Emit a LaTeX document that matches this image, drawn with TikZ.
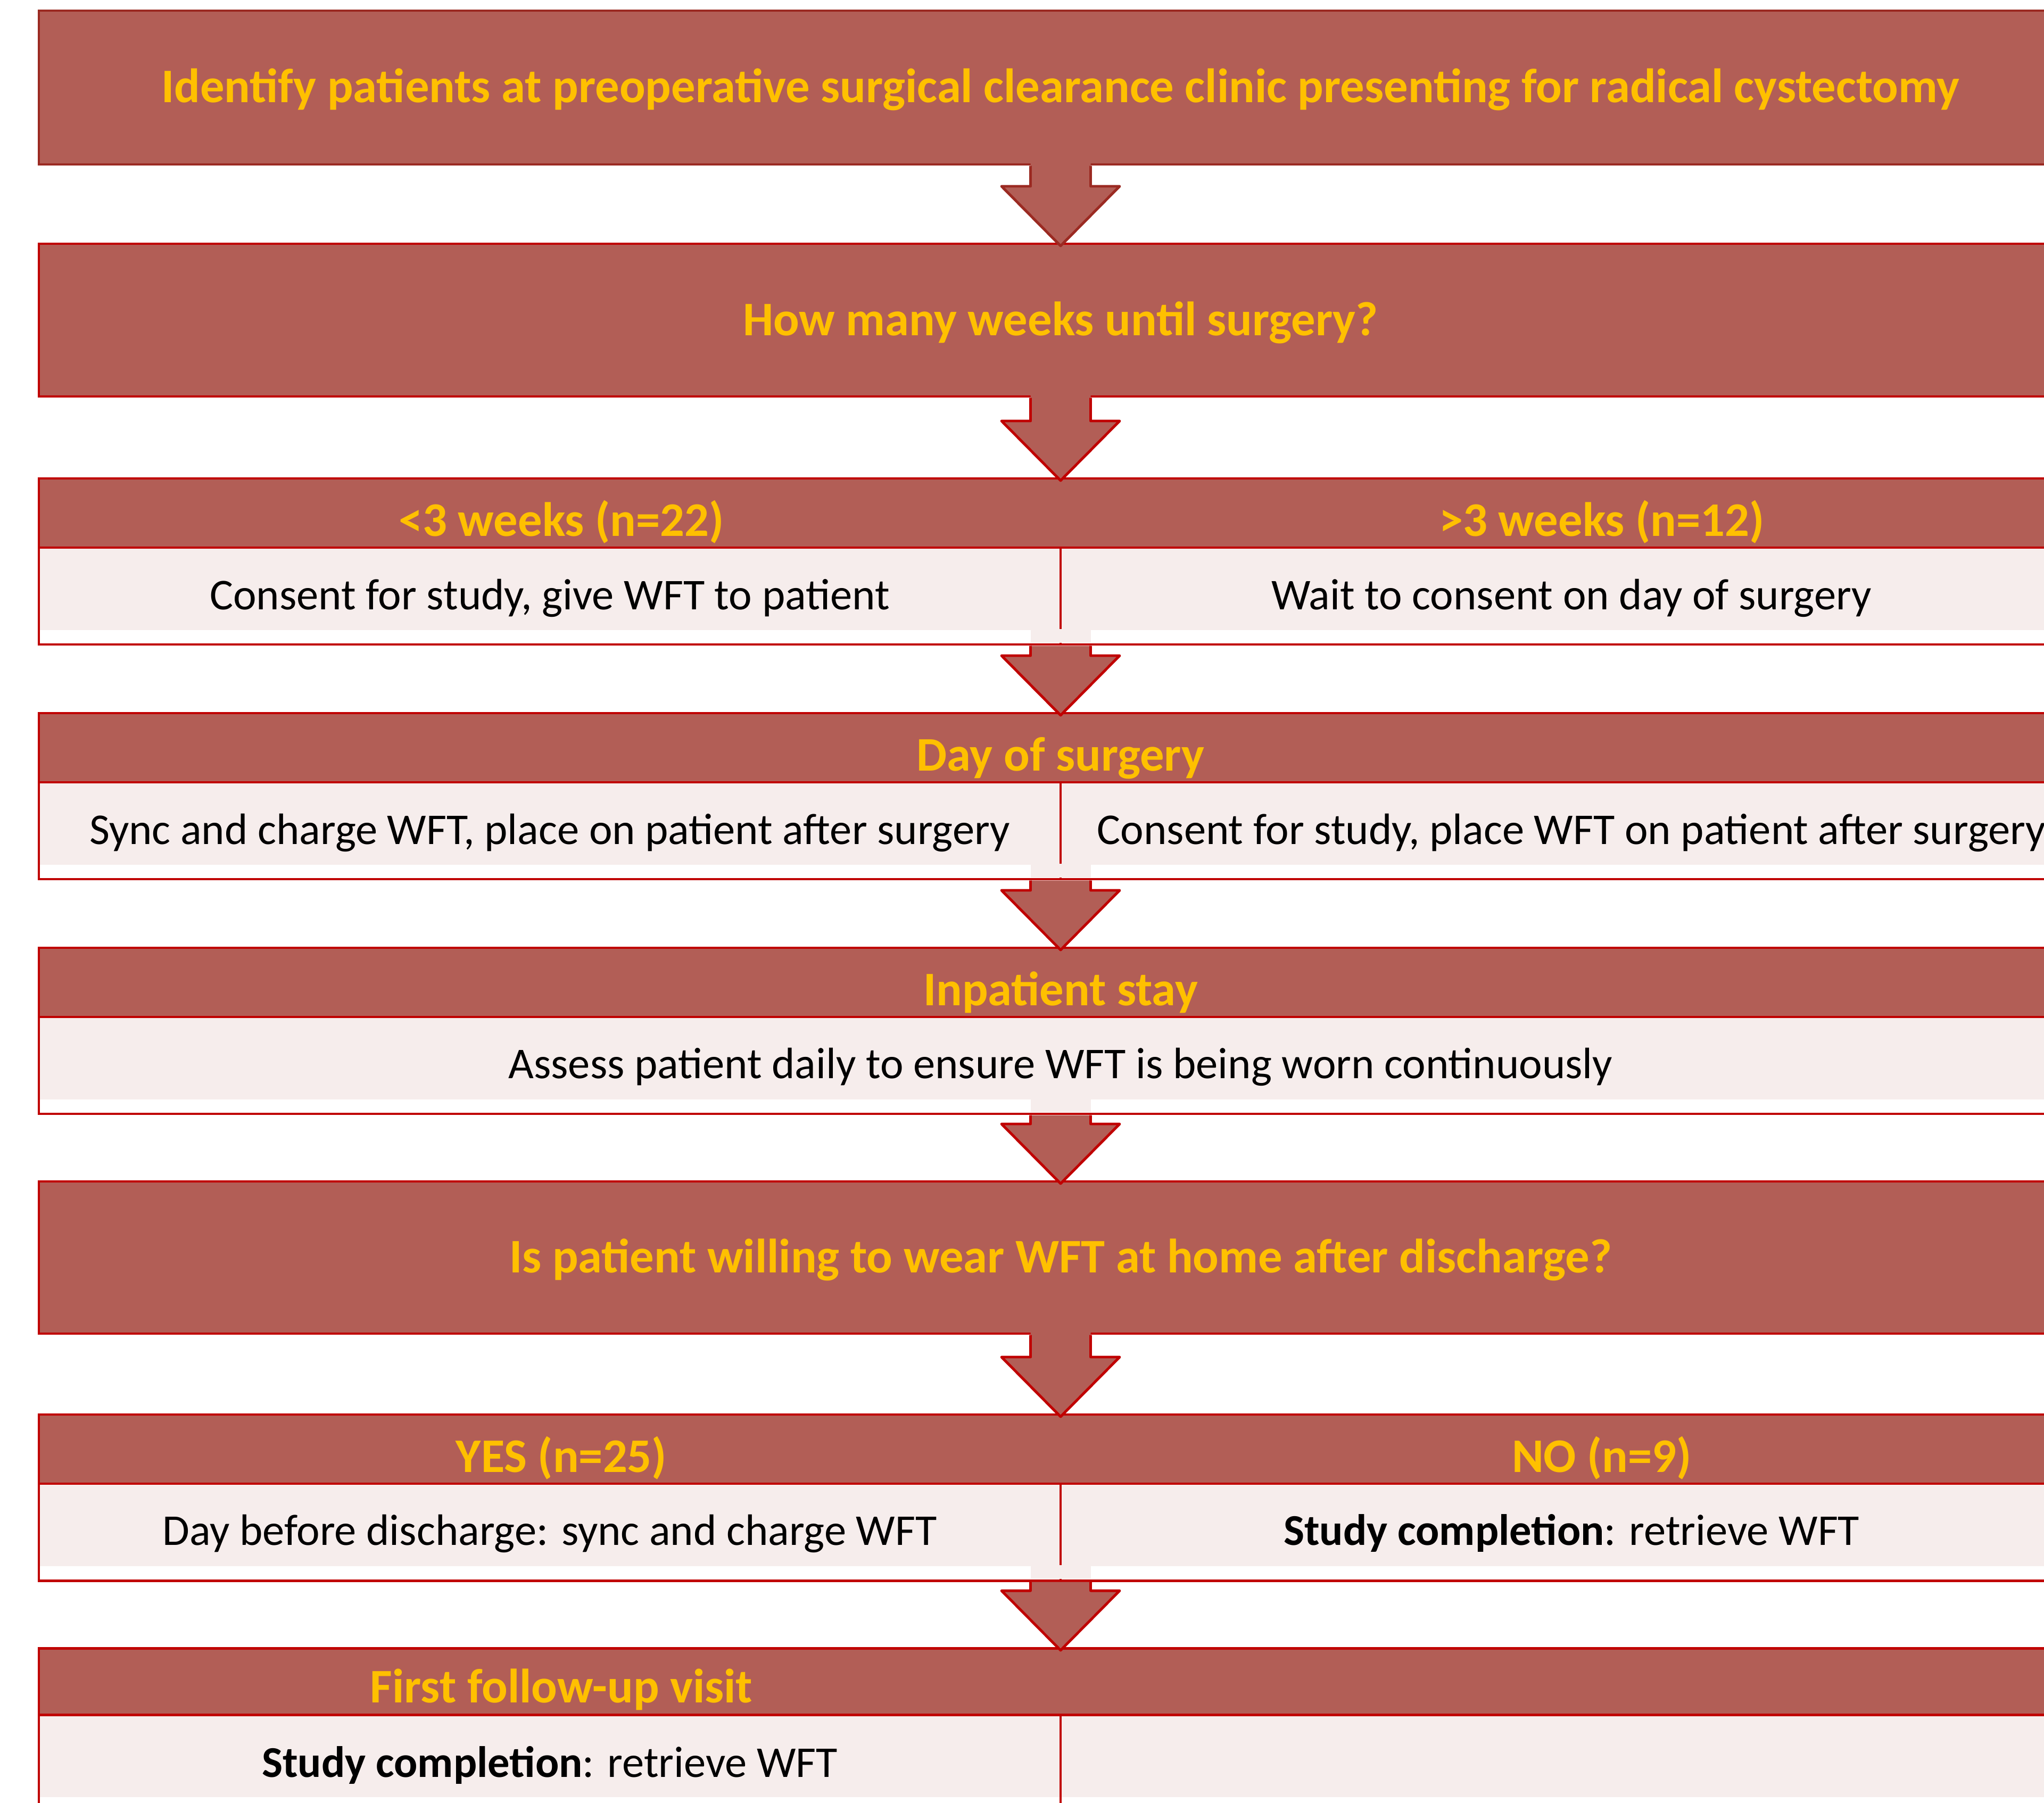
\documentclass[tikz,border=0pt]{standalone}
\usepackage{fontspec}
\setmainfont{Carlito}
\usetikzlibrary{calc}

\definecolor{boxfill}{HTML}{B25E56}
\definecolor{darkline}{HTML}{9B2A22}
\definecolor{redline}{HTML}{C00000}
\definecolor{paleFill}{HTML}{F6EDEC}
\definecolor{gold}{HTML}{FFC000}

\begin{document}
\begin{tikzpicture}[
    hbox/.style={draw=redline, line width=1.4pt, fill=boxfill, anchor=north west,
                 inner sep=0pt, outer sep=0pt, minimum width=38.40cm, minimum height=2.87cm},
    band/.style={hbox, minimum height=1.30cm},
    lbox/.style={draw=redline, line width=1.4pt, fill=white, anchor=north west,
                 inner sep=0pt, outer sep=0pt, minimum width=19.20cm, minimum height=1.82cm,
                 path picture={\fill[paleFill] (path picture bounding box.north west)
                   rectangle ([yshift=0.27cm]path picture bounding box.south east);}},
    ttl/.style={font=\fontsize{25.8}{31}\selectfont\bfseries, text=gold, anchor=base, inner sep=0pt},
    txt/.style={font=\fontsize{23.5}{28}\selectfont, anchor=base, inner sep=0pt},
    arr/.style={line width=1.4pt, line join=round}
  ]
    \useasboundingbox (0,0) rectangle (38.41,-33.88);
    \clip (0,0) rectangle (38.41,-33.88);
    % ---- clinic ----
    \node[hbox, draw=darkline, minimum height=2.89cm] (q1) at (0.73,-0.20) {};
    \node[hbox] (q2) at ([yshift=-1.49cm]q1.south west) {};
    % ---- weeks until surgery ----
    \node[band] (w) at ([yshift=-1.54cm]q2.south west) {};
    \node[lbox] (wl) at (w.south west) {};
    \node[lbox] (wr) at (wl.north east) {};
    % ---- day of surgery ----
    \node[band] (d) at ([yshift=-1.29cm]wl.south west) {};
    \node[lbox] (dl) at (d.south west) {};
    \node[lbox] (dr) at (dl.north east) {};
    % ---- inpatient stay ----
    \node[band] (s) at ([yshift=-1.29cm]dl.south west) {};
    \node[lbox, minimum width=38.40cm] (sl) at (s.south west) {};
    % ---- home question ----
    \node[hbox, minimum height=2.86cm] (h) at ([yshift=-1.27cm]sl.south west) {};
    % ---- yes / no ----
    \node[band] (y) at ([yshift=-1.52cm]h.south west) {};
    \node[lbox] (yl) at (y.south west) {};
    \node[lbox] (yr) at (yl.north east) {};
    % ---- follow-up ----
    \node[band, minimum height=1.25cm] (f) at ([yshift=-1.27cm]yl.south west) {};
    \node[lbox] (fl) at (f.south west) {};
    \node[lbox] (fr) at (fl.north east) {};
    % ---- arrows ----
    \foreach \g in {wl.south east, dl.south east, sl.south, yl.south east}
      \fill[paleFill] ($(\g)+(-0.565,0.03)$) rectangle ($(\g)+(0.565,0.29)$);
    \foreach \a/\b/\c/\o in {q1.south/q2.north/darkline/0.03, q2.south/w.north/redline/0.03,
        wl.south east/d.north/redline/-0.025, dl.south east/s.north/redline/-0.025,
        sl.south/h.north/redline/-0.025, h.south/y.north/redline/0.03,
        yl.south east/f.north/redline/-0.025} {
      \fill[boxfill] ($(\a)+(-0.565,\o)$) -- ($(\b)+(-0.565,1.08)$) -- ($(\b)+(-1.11,1.08)$)
        -- ($(\b)+(0,-0.04)$) -- ($(\b)+(1.11,1.08)$) -- ($(\b)+(0.565,1.08)$)
        -- ($(\a)+(0.565,\o)$) -- cycle;
      \draw[arr, \c] ($(\a)+(-0.565,-0.025)$) -- ($(\b)+(-0.565,1.08)$) -- ($(\b)+(-1.11,1.08)$)
        -- ($(\b)+(0,-0.04)$) -- ($(\b)+(1.11,1.08)$) -- ($(\b)+(0.565,1.08)$)
        -- ($(\a)+(0.565,-0.025)$);
    }
    % ---- texts ----
    \node[ttl] (t1) at ([yshift=-1.72cm]q1.north)
      {Identify patients at preoperative surgical clearance clinic presenting for radical cystectomy};
    \node[ttl] (t2) at ([yshift=-1.72cm]q2.north) {How many weeks until surgery?};
    \node[ttl] (t3a) at ([xshift=0.22cm, yshift=0.22cm]wl.north) {<3 weeks (n=22)};
    \node[ttl] (t3b) at ([xshift=0.57cm, yshift=0.22cm]wr.north) {>3 weeks (n=12)};
    \node[txt] (c3a) at ([yshift=-1.16cm]wl.north) {Consent for study, give WFT to patient};
    \node[txt] (c3b) at ([yshift=-1.16cm]wr.north) {Wait to consent on day of surgery};
    \node[ttl] (t4) at ([yshift=0.22cm]dl.north east) {Day of surgery};
    \node[txt] (c4a) at ([yshift=-1.16cm]dl.north) {Sync and charge WFT, place on patient after surgery};
    \node[txt] (c4b) at ([yshift=-1.16cm]dr.north) {Consent for study, place WFT on patient after surgery};
    \node[ttl] (t5) at ([yshift=0.22cm]sl.north) {Inpatient stay};
    \node[txt] (c5) at ([yshift=-1.15cm]sl.north) {Assess patient daily to ensure WFT is being worn continuously};
    \node[ttl] (t6) at ([yshift=-1.71cm]h.north) {Is patient willing to wear WFT at home after discharge?};
    \node[ttl] (t7a) at ([xshift=0.22cm, yshift=0.22cm]yl.north) {YES (n=25)};
    \node[ttl] (t7b) at ([xshift=0.57cm, yshift=0.22cm]yr.north) {NO (n=9)};
    \node[txt] (c7a) at ([yshift=-1.15cm]yl.north) {Day before discharge: sync and charge WFT};
    \node[txt] (c7b) at ([yshift=-1.15cm]yr.north) {\textbf{Study completion}: retrieve WFT};
    \node[ttl] (t8) at ([xshift=0.22cm, yshift=0.23cm]fl.north) {First follow-up visit};
    \node[txt] (c8) at ([yshift=-1.17cm]fl.north) {\textbf{Study completion}: retrieve WFT};
  \end{tikzpicture}
\end{document}
